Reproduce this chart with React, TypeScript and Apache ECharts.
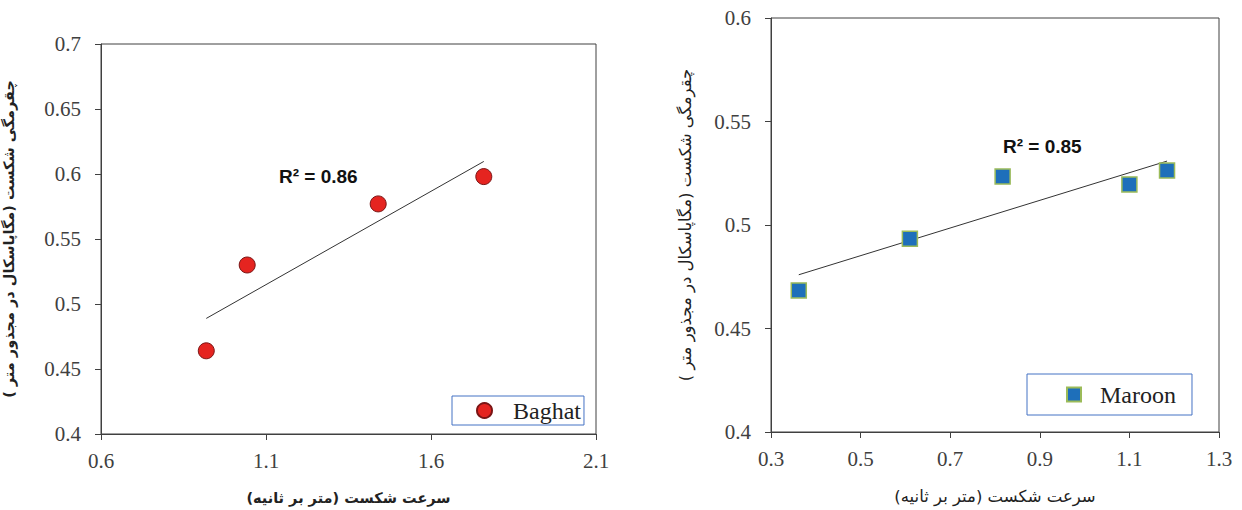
import React, { useEffect, useRef } from "react";
import * as echarts from "echarts";

const baghatX = [0.919, 1.043, 1.44, 1.76];
const baghatY = [0.464, 0.53, 0.577, 0.598];
const maroonX = [0.362, 0.61, 0.817, 1.1, 1.184];
const maroonY = [0.4684, 0.4933, 0.5234, 0.5196, 0.5263];
const seriesNames = ["Baghat", "Maroon"];
const r2Labels = ["R² = 0.86", "R² = 0.85"];
const yTitle = "چقرمگی شکست (مگاپاسکال در مجذور متر )";
const xTitle = "سرعت شکست (متر بر ثانیه)";

function trend(xs: number[], ys: number[]) {
  const n = xs.length;
  const mx = xs.reduce((a, b) => a + b, 0) / n;
  const my = ys.reduce((a, b) => a + b, 0) / n;
  let sxy = 0, sxx = 0;
  for (let i = 0; i < n; i++) {
    sxy += (xs[i] - mx) * (ys[i] - my);
    sxx += (xs[i] - mx) * (xs[i] - mx);
  }
  const b = sxy / sxx;
  const a = my - b * mx;
  const x0 = Math.min(...xs), x1 = Math.max(...xs);
  return [[x0, a + b * x0], [x1, a + b * x1]];
}

const fmt = (v: number) => String(parseFloat(v.toFixed(2)));
const axisColor = "#404040";
const tickFont = { fontFamily: "Liberation Serif", fontSize: 21, color: "#404040" };

export default function App() {
  const ref = useRef<HTMLDivElement>(null);
  useEffect(() => {
    const chart = echarts.init(ref.current!, null, { renderer: "svg" });
    const mkX = (idx: number, min: number, max: number, interval: number, bold: boolean, size: number) => ({
      type: "value", gridIndex: idx, min, max, interval,
      name: xTitle, nameLocation: "middle", nameGap: 56,
      nameTextStyle: { fontFamily: "DejaVu Sans", fontSize: size, fontWeight: bold ? "bold" : "normal", color: "#222" },
      axisLine: { show: true, lineStyle: { color: axisColor, width: 1 } },
      axisTick: { show: true, inside: false, length: 6, lineStyle: { color: axisColor } },
      axisLabel: { ...tickFont, margin: 16, formatter: fmt },
      splitLine: { show: false },
    });
    const mkY = (idx: number, min: number, max: number, gap: number, bold: boolean, size: number) => ({
      type: "value", gridIndex: idx, min, max, interval: 0.05,
      name: yTitle, nameLocation: "middle", nameGap: gap, nameRotate: 90,
      nameTextStyle: { fontFamily: "DejaVu Sans", fontSize: size, fontWeight: bold ? "bold" : "normal", color: "#222" },
      axisLine: { show: true, lineStyle: { color: axisColor, width: 1 } },
      axisTick: { show: true, inside: false, length: 6, lineStyle: { color: axisColor } },
      axisLabel: { ...tickFont, margin: 20, formatter: fmt },
      splitLine: { show: false },
    });
    chart.setOption({
      animation: false,
      backgroundColor: "#ffffff",
      grid: [
        { left: 97, top: 44, width: 499, height: 393, show: true, borderColor: axisColor, borderWidth: 1, backgroundColor: "transparent" },
        { left: 771, top: 18, width: 448, height: 418, show: true, borderColor: axisColor, borderWidth: 1, backgroundColor: "transparent" },
      ],
      xAxis: [mkX(0, 0.6, 2.1, 0.5, true, 14.5), mkX(1, 0.3, 1.3, 0.2, false, 16.5)],
      yAxis: [mkY(0, 0.4, 0.7, 85, true, 14.5), mkY(1, 0.4, 0.6, 77, false, 16.5)],
      legend: [
        {
          data: [seriesNames[0]], left: 452, top: 396, orient: "horizontal",
          borderColor: "#4472c4", borderWidth: 1, backgroundColor: "#fff",
          padding: [2, 3, 2, 24], itemWidth: 15, itemHeight: 15,
          textStyle: { fontFamily: "Liberation Serif", fontSize: 24, lineHeight: 25, color: "#222", padding: [0, 0, 0, 16] },
        },
        {
          data: [seriesNames[1]], left: 1027, top: 374, orient: "horizontal",
          borderColor: "#4472c4", borderWidth: 1, backgroundColor: "#fff",
          padding: [8, 16, 8, 39], itemWidth: 14, itemHeight: 14,
          textStyle: { fontFamily: "Liberation Serif", fontSize: 24, lineHeight: 25, color: "#222", padding: [0, 0, 0, 14] },
        },
      ],
      series: [
        {
          name: seriesNames[0], type: "scatter", xAxisIndex: 0, yAxisIndex: 0,
          symbol: "circle", symbolSize: 16,
          itemStyle: { color: "#e52420", borderColor: "#7a1515", borderWidth: 1, opacity: 1 },
          data: baghatX.map((x, i) => [x, baghatY[i]]), z: 3,
        },
        {
          name: "trend0", type: "line", xAxisIndex: 0, yAxisIndex: 0, showSymbol: false, silent: true,
          lineStyle: { color: "#333", width: 1 }, data: trend(baghatX, baghatY), z: 2,
        },
        {
          name: seriesNames[1], type: "scatter", xAxisIndex: 1, yAxisIndex: 1,
          symbol: "rect", symbolSize: 15,
          itemStyle: { color: "#1e6fba", borderColor: "#9bbb59", borderWidth: 1.5, opacity: 1 },
          data: maroonX.map((x, i) => [x, maroonY[i]]), z: 3,
        },
        {
          name: "trend1", type: "line", xAxisIndex: 1, yAxisIndex: 1, showSymbol: false, silent: true,
          lineStyle: { color: "#333", width: 1 }, data: trend(maroonX, maroonY), z: 2,
        },
      ],
      graphic: [
        { type: "text", left: 279, top: 167, style: { text: r2Labels[0], font: "bold 19px 'Liberation Sans'", fill: "#111" } },
        { type: "text", left: 1003, top: 137, style: { text: r2Labels[1], font: "bold 19px 'Liberation Sans'", fill: "#111" } },
      ],
    });
    return () => chart.dispose();
  }, []);
  return <div ref={ref} style={{ position: "fixed", left: 0, top: 0, width: 1242, height: 510 }} />;
}
